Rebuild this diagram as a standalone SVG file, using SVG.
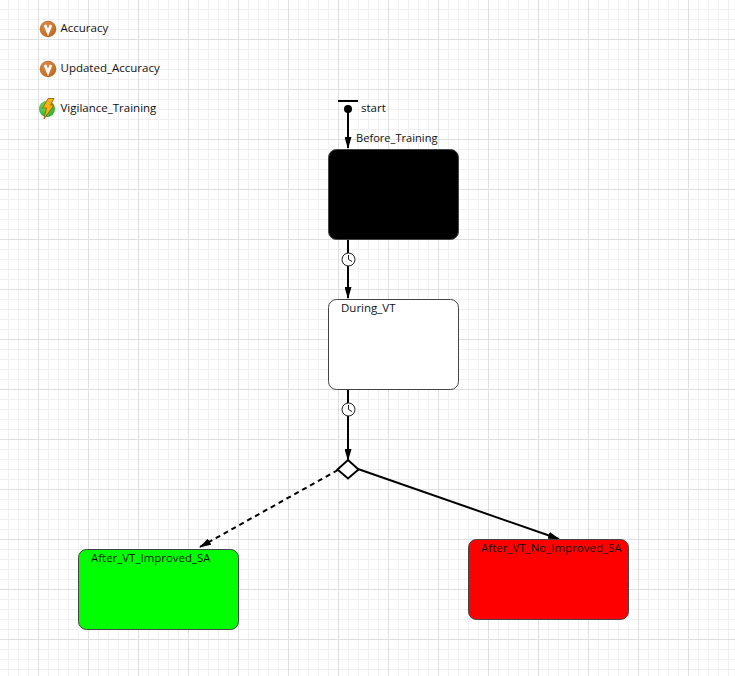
<svg xmlns="http://www.w3.org/2000/svg" width="735" height="676" viewBox="0 0 735 676">
<style>
text{font-family:"Open Sans","Liberation Sans",sans-serif;font-size:11.5px;fill:#111}
.state{stroke:#444;stroke-width:1}
.c{fill:none;stroke:#000;stroke-width:2}
.clock{fill:#fff;stroke:#222;stroke-width:1}
.hand{fill:none;stroke:#222;stroke-width:1}
</style>
<defs>
<pattern id="minor" width="10" height="10" patternUnits="userSpaceOnUse" x="-2" y="-1"><path d="M0 0H10V1H1V10H0Z" fill="#f0f0f0"/></pattern>
<pattern id="major" width="50" height="50" patternUnits="userSpaceOnUse" x="38" y="39"><path d="M0 0H50V1H1V50H0Z" fill="#e0e0e0"/></pattern>
<marker id="arrow" markerUnits="userSpaceOnUse" markerWidth="12" markerHeight="7" refX="11" refY="3.500" orient="auto" viewBox="0 0 12 7"><path d="M0 0L12 3.500L0 7Z" fill="#000"/></marker>
<radialGradient id="v" cx="0.4" cy="0.35" r="0.7"><stop offset="0" stop-color="#dd9050"/><stop offset="1" stop-color="#bc6518"/></radialGradient>
<radialGradient id="g" cx="0.4" cy="0.35" r="0.7"><stop offset="0" stop-color="#70e060"/><stop offset="1" stop-color="#30a830"/></radialGradient>
<g id="vicon"><circle r="8.300" fill="url(#v)"/><path d="M-3 -4L0 3.500L3 -4" fill="none" stroke="#fff" stroke-width="2.600"/></g>
</defs>
<rect width="735" height="676" fill="#fff"/>
<rect width="735" height="676" fill="url(#minor)"/>
<rect width="735" height="676" fill="url(#major)"/>

<g id="connectors">
<path class="c" d="M348 110V148" marker-end="url(#arrow)"/>
<path class="c" d="M348 239V298" marker-end="url(#arrow)"/>
<path class="c" d="M348 389V460" marker-end="url(#arrow)"/>
<path class="c" d="M338 470L200 547" stroke-dasharray="5 4" marker-end="url(#arrow)"/>
<path class="c" d="M358 469L559 539" marker-end="url(#arrow)"/>
</g>

<g id="accuracy"><use href="#vicon" x="48" y="29"/><text x="60.500" y="32">Accuracy</text></g>
<g id="updated_accuracy"><use href="#vicon" x="48" y="69"/><text x="60.500" y="72">Updated_Accuracy</text></g>
<g id="vigilance_training">
<circle cx="47" cy="109" r="8" fill="url(#g)"/>
<path d="M48 98.500L54 98.500L50.500 105L54 105L44 119L46.500 108L42.500 108Z" fill="#f8b010" stroke="#8a5a00" stroke-width="0.800"/>
<text x="60.500" y="112">Vigilance_Training</text>
</g>
<g id="start">
<rect x="338" y="100" width="20" height="2" fill="#000"/>
<circle cx="348" cy="109" r="4" fill="#000"/>
<text x="361" y="112">start</text>
</g>
<g id="before_training">
<rect class="state" x="328.500" y="149.500" width="130" height="90" rx="8" fill="#000"/>
<text x="356" y="142" textLength="81.500" lengthAdjust="spacingAndGlyphs">Before_Training</text>
</g>
<g id="timer1">
<circle class="clock" cx="348.500" cy="259.500" r="6.500"/><path class="hand" d="M348.500 255V259.500L352 261.500"/>
</g>
<g id="during_vt">
<rect class="state" x="328.500" y="299.500" width="130" height="90" rx="8" fill="#fff"/>
<text x="341" y="312">During_VT</text>
</g>
<g id="timer2">
<circle class="clock" cx="348.500" cy="409.500" r="6.500"/><path class="hand" d="M348.500 405V409.500L352 411.500"/>
</g>
<g id="branch">
<path d="M348 460L358.500 469.500L348 478.500L337.500 469.500Z" fill="#fff" stroke="#000" stroke-width="2"/>
</g>
<g id="after_vt_improved_sa">
<rect class="state" x="78.500" y="549.500" width="160" height="80" rx="8" fill="#00ff00"/>
<text x="91" y="562" textLength="119.500" lengthAdjust="spacingAndGlyphs">After_VT_Improved_SA</text>
</g>
<g id="after_vt_no_improved_sa">
<rect class="state" x="468.500" y="539.500" width="160" height="80" rx="8" fill="#ff0000"/>
<text x="481" y="552">After_VT_No_Improved_SA</text>
</g>
</svg>
